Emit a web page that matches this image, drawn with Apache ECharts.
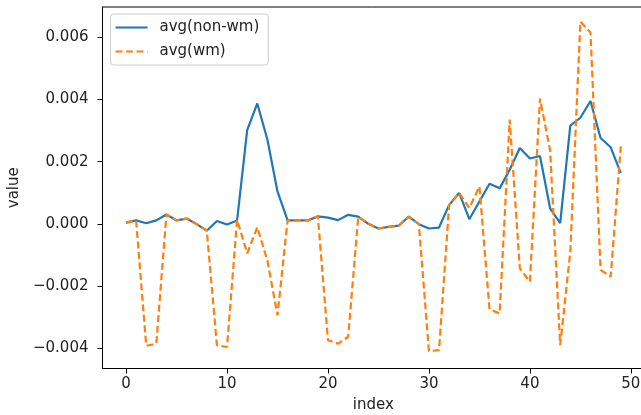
<!DOCTYPE html>
<html>
<head>
<meta charset="utf-8">
<script src="https://cdn.jsdelivr.net/npm/echarts@6/dist/echarts.min.js"></script>
<style>
html,body{margin:0;padding:0;background:#fff;}
#c{width:641px;height:415px;}
</style>
</head>
<body>
<div id="c"></div>
<script>
var indexValues = [];
for (var k = 0; k < 50; k++) indexValues.push(k);

var nonWm = [0.00004,0.00011,0.00002,0.00011,0.00030,0.00011,0.00017,-0.00001,-0.00022,0.00009,
             -0.00002,0.00011,0.00301,0.00387,0.00271,0.00104,0.00011,0.00011,0.00011,0.00024,
             0.00020,0.00012,0.00029,0.00023,0.00000,-0.00015,-0.00010,-0.00006,0.00023,-0.00001,
             -0.00015,-0.00012,0.00061,0.00099,0.00015,0.00072,0.00129,0.00114,0.00174,0.00244,
             0.00210,0.00218,0.00050,0.00002,0.00316,0.00341,0.00395,0.00276,0.00246,0.00163];

var wm = [0.00004,0.00011,-0.00392,-0.00385,0.00030,0.00011,0.00017,-0.00001,-0.00022,-0.00390,
          -0.00396,0.00013,-0.00095,-0.00011,-0.00118,-0.00294,0.00011,0.00011,0.00011,0.00024,
          -0.00374,-0.00385,-0.00363,0.00023,0.00000,-0.00015,-0.00010,-0.00006,0.00023,-0.00001,
          -0.00409,-0.00406,0.00061,0.00099,0.00051,0.00120,-0.00275,-0.00288,0.00335,-0.00143,
          -0.00186,0.00403,0.00236,-0.00390,-0.00090,0.00650,0.00615,-0.00148,-0.00170,0.00249];

var xTicks = [0, 10, 20, 30, 40, 50];
var yTicks = [-0.004, -0.002, 0.000, 0.002, 0.004, 0.006];

function pairs(arr) {
  return arr.map(function (v, i) { return [indexValues[i], v]; });
}

var FONT = 'DejaVu Sans';
var FS = 15;
var TXT = '#222';
var chart = echarts.init(document.getElementById('c'), null, {renderer: 'canvas'});
chart.setOption({
  animation: false,
  backgroundColor: '#fff',
  textStyle: {fontFamily: FONT},
  grid: {left: 102.5, top: 7, right: -3, bottom: 46.5, show: true, borderColor: '#000', borderWidth: 1,
         containLabel: false, outerBoundsMode: 'none'},
  legend: {
    left: 110.5, top: 14, orient: 'vertical',
    backgroundColor: 'rgba(255,255,255,0.8)', borderColor: '#cccccc', borderWidth: 1, borderRadius: 3,
    padding: [6, 9, 6, 4], itemGap: 9, itemWidth: 32, itemHeight: 14,
    itemStyle: {opacity: 0},
    textStyle: {fontFamily: FONT, fontSize: FS, color: TXT, padding: [0, 0, 0, 7]},
    data: ['avg(non-wm)', 'avg(wm)']
  },
  xAxis: {
    type: 'value', min: -2.33, max: 51.3,
    name: 'index', nameLocation: 'middle', nameGap: 29,
    nameTextStyle: {fontFamily: FONT, fontSize: FS, color: TXT},
    splitLine: {show: false},
    axisLine: {show: true, onZero: false, lineStyle: {color: '#000', width: 1}},
    axisTick: {show: true, length: 5, lineStyle: {color: '#000'}, customValues: xTicks},
    axisLabel: {fontFamily: FONT, fontSize: FS, color: TXT, margin: 8, customValues: xTicks,
      formatter: function (v) { return String(v); }}
  },
  yAxis: {
    type: 'value', min: -0.00465, max: 0.00697,
    name: 'value', nameLocation: 'middle', nameGap: 74, nameRotate: 90,
    nameTextStyle: {fontFamily: FONT, fontSize: FS, color: TXT},
    splitLine: {show: false},
    axisLine: {show: true, onZero: false, lineStyle: {color: '#000', width: 1}},
    axisTick: {show: true, length: 5, lineStyle: {color: '#000'}, customValues: yTicks},
    axisLabel: {fontFamily: FONT, fontSize: FS, color: TXT, margin: 14, customValues: yTicks,
      formatter: function (v) { return v.toFixed(3).replace('-', '\u2212'); }}
  },
  series: [
    {name: 'avg(non-wm)', type: 'line', data: pairs(nonWm), symbol: 'none',
     lineStyle: {color: '#1f77b4', width: 2.2}, itemStyle: {color: '#1f77b4'}},
    {name: 'avg(wm)', type: 'line', data: pairs(wm), symbol: 'none',
     lineStyle: {color: '#ff7f0e', width: 2.2, type: [7, 3.5]}, itemStyle: {color: '#ff7f0e'}}
  ]
});
</script>
</body>
</html>
